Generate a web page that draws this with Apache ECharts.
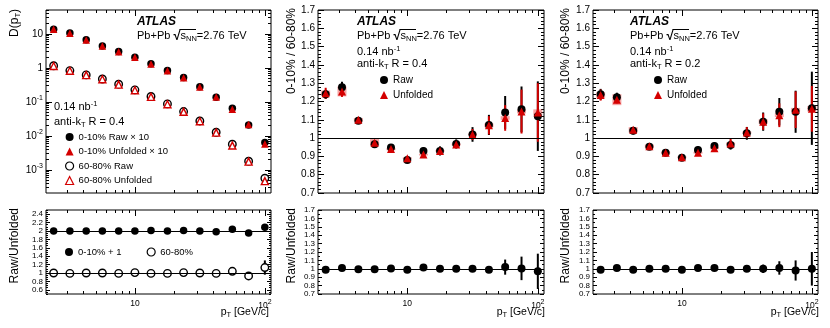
<!DOCTYPE html>
<html>
<head>
<meta charset="utf-8">
<script src="https://cdn.jsdelivr.net/npm/echarts@6/dist/echarts.min.js"></script>
<style>
  html, body { margin: 0; background: #fff; }
  #chart { width: 830px; height: 328px; }
</style>
</head>
<body>
<div id="chart"></div>
<script>
const FONT = '"Liberation Sans", Arial, Helvetica, sans-serif';
const RED = '#d40000';
const BOX = 'rgba(238, 90, 90, 0.55)';

// track pT bin centres [GeV/c]
const pt = [2.37, 3.16, 4.22, 5.62, 7.50, 10.0, 13.3, 17.8, 23.7, 31.6, 42.2, 56.2, 75.0, 100];

// D(pT) spectra (top left)
const dRaw010 = [13.7, 10.5, 6.7, 4.4, 3.0, 2.06, 1.31, 0.83, 0.52, 0.28, 0.137, 0.065, 0.021, 0.0064];
const dUnf010 = [13.6, 10.4, 6.6, 4.35, 2.95, 2.04, 1.30, 0.82, 0.51, 0.275, 0.138, 0.061, 0.0215, 0.0058];
const dRaw6080 = [1.15, 0.83, 0.62, 0.47, 0.33, 0.225, 0.144, 0.087, 0.052, 0.0275, 0.0128, 0.0057, 0.0018, 0.00057];
const dUnf6080 = [1.13, 0.82, 0.61, 0.46, 0.32, 0.22, 0.14, 0.085, 0.051, 0.027, 0.0125, 0.0052, 0.00175, 0.00047];

// Raw/Unfolded (bottom left)
const ru010 = [2.0, 2.0, 2.0, 2.0, 2.0, 2.0, 2.01, 2.0, 2.01, 2.0, 1.98, 2.04, 1.95, 2.09];
const ru010Err = [0.005, 0.005, 0.005, 0.005, 0.005, 0.005, 0.005, 0.005, 0.01, 0.01, 0.015, 0.02, 0.03, 0.04];
const ru6080 = [1.0, 0.99, 1.0, 1.0, 0.99, 1.01, 0.99, 0.99, 1.01, 1.0, 0.99, 1.04, 0.93, 1.13];
const ru6080Err = [0.005, 0.005, 0.005, 0.005, 0.005, 0.005, 0.005, 0.005, 0.01, 0.01, 0.015, 0.02, 0.05, 0.17];

// 0-10% / 60-80%, R = 0.4 (top middle)
const raw04 = [1.239, 1.278, 1.095, 0.966, 0.948, 0.880, 0.930, 0.930, 0.968, 1.020, 1.072, 1.140, 1.157, 1.120];
const raw04Err = [0.025, 0.03, 0.015, 0.012, 0.015, 0.015, 0.02, 0.025, 0.025, 0.04, 0.055, 0.09, 0.125, 0.19];
const unf04 = [1.245, 1.255, 1.100, 0.975, 0.940, 0.890, 0.910, 0.930, 0.965, 1.020, 1.070, 1.110, 1.145, 1.140];
const unf04Err = [0.03, 0.03, 0.015, 0.012, 0.012, 0.012, 0.015, 0.02, 0.02, 0.03, 0.05, 0.07, 0.12, 0.16];
const sys04 = [0.015, 0.027, 0.01, 0.02, 0.006, 0.005, 0.005, 0.005, 0.005, 0.005, 0.01, 0.01, 0.01, 0.017];

// 0-10% / 60-80%, R = 0.2 (top right)
const raw02 = [1.239, 1.223, 1.040, 0.953, 0.920, 0.893, 0.935, 0.957, 0.962, 1.026, 1.090, 1.144, 1.144, 1.163];
const raw02Err = [0.03, 0.025, 0.02, 0.015, 0.015, 0.012, 0.02, 0.02, 0.025, 0.035, 0.05, 0.075, 0.115, 0.2];
const unf02 = [1.235, 1.210, 1.045, 0.955, 0.920, 0.895, 0.920, 0.945, 0.970, 1.030, 1.090, 1.125, 1.155, 1.160];
const unf02Err = [0.03, 0.02, 0.015, 0.012, 0.012, 0.012, 0.015, 0.02, 0.025, 0.03, 0.045, 0.065, 0.10, 0.125];
const sys02 = [0.015, 0.03, 0.015, 0.01, 0.006, 0.005, 0.005, 0.006, 0.006, 0.006, 0.012, 0.01, 0.01, 0.015];

// Raw/Unfolded ratios (bottom middle, bottom right)
const ru04 = [0.99, 1.01, 0.995, 0.995, 1.005, 0.99, 1.015, 1.0, 1.0, 1.0, 0.99, 1.02, 1.005, 0.97];
const ru04Err = [0.01, 0.01, 0.01, 0.01, 0.01, 0.01, 0.01, 0.01, 0.015, 0.025, 0.04, 0.09, 0.14, 0.21];
const ru02 = [0.99, 1.01, 0.99, 1.0, 1.0, 0.99, 1.01, 1.01, 0.99, 1.0, 1.0, 1.01, 0.98, 1.0];
const ru02Err = [0.01, 0.01, 0.01, 0.01, 0.01, 0.01, 0.01, 0.01, 0.01, 0.02, 0.05, 0.08, 0.12, 0.2];

// ticks
const xMajor = [10, 100];
const xMinor = [3, 4, 5, 6, 7, 8, 9, 20, 30, 40, 50, 60, 70, 80, 90];
const dMajor = [0.001, 0.01, 0.1, 1, 10];
const ratioMajor = [0.7, 0.8, 0.9, 1, 1.1, 1.2, 1.3, 1.4, 1.5, 1.6, 1.7];
const ruLeftMajor = [0.6, 0.8, 1, 1.2, 1.4, 1.6, 1.8, 2, 2.2, 2.4];

const X_MIN = 2.07, X_MAX = 111.5;
const D_MIN = 2.1e-4, D_MAX = 50;

function stepTicks(a, b, s) {
  const out = [];
  for (let v = a; v <= b + 1e-9; v += s) out.push(+v.toFixed(3));
  return out;
}
const dMinor = [];
[1e-4, 1e-3, 1e-2, 1e-1, 1, 10].forEach(d => {
  for (let m = 2; m <= 9; m++) {
    const v = +(m * d).toPrecision(3);
    if (v >= D_MIN && v <= D_MAX) dMinor.push(v);
  }
});
const ratioMinor = stepTicks(0.7, 1.7, 0.02);
const ruMinor = stepTicks(0.7, 1.7, 0.05);
const ruLeftMinor = stepTicks(0.5, 2.5, 0.05);

const grids = [
  { left: 46, top: 10, width: 225, height: 183 },
  { left: 318, top: 10, width: 226, height: 183 },
  { left: 593, top: 10, width: 225, height: 183 },
  { left: 46, top: 210, width: 225, height: 84 },
  { left: 318, top: 210, width: 226, height: 84 },
  { left: 593, top: 210, width: 225, height: 84 }
].map(g => Object.assign({ show: true, borderColor: '#000', borderWidth: 1, backgroundColor: 'transparent', outerBoundsMode: 'none' }, g));

const supRich = {
  sup: { fontSize: 7, fontFamily: FONT, color: '#000', padding: [0, 0, 7, 0] }
};

function tickAxis(base, pos, values, len, label) {
  return Object.assign({}, base, {
    position: pos,
    axisLine: { show: false },
    splitLine: { show: false },
    axisTick: { show: true, inside: true, length: len, customValues: values, lineStyle: { color: '#000', width: 1 } },
    axisLabel: label ? Object.assign({ show: true, customValues: values, color: '#000', fontFamily: FONT, rich: supRich }, label) : { show: false }
  });
}

const xAxis = [], yAxis = [];
grids.forEach((g, gi) => {
  const xb = { type: 'log', logBase: 10, gridIndex: gi, min: X_MIN, max: X_MAX };
  const bottomRow = gi >= 3;
  xAxis.push(tickAxis(xb, 'bottom', xMajor, 6, bottomRow ? {
    fontSize: 8.5, margin: 5,
    formatter: v => (v >= 99 ? '10{sup|2}' : '10')
  } : null));
  xAxis.push(tickAxis(xb, 'bottom', xMinor, 3, null));
  xAxis.push(tickAxis(xb, 'top', xMajor, 6, null));
  xAxis.push(tickAxis(xb, 'top', xMinor, 3, null));

  let yb, major, minor, label;
  if (gi === 0) {
    yb = { type: 'log', logBase: 10, gridIndex: gi, min: D_MIN, max: D_MAX };
    major = dMajor; minor = dMinor;
    label = { fontSize: 10, margin: 3, formatter: v => (v >= 1 ? String(Math.round(v)) : '10{sup|' + Math.round(Math.log10(v)) + '}') };
  } else if (gi === 3) {
    yb = { type: 'value', gridIndex: gi, min: 0.5, max: 2.5 };
    major = ruLeftMajor; minor = ruLeftMinor;
    label = { fontSize: 8, margin: 3, formatter: v => String(+v.toFixed(1)) };
  } else {
    yb = { type: 'value', gridIndex: gi, min: 0.7, max: 1.7 };
    major = ratioMajor; minor = gi < 3 ? ratioMinor : ruMinor;
    label = { fontSize: gi < 3 ? 10 : 8, margin: 3, formatter: v => String(+v.toFixed(1)) };
  }
  const ml = gi < 3 ? 6 : 4;
  yAxis.push(tickAxis(yb, 'left', major, ml, label));
  yAxis.push(tickAxis(yb, 'left', minor, ml / 2, null));
  yAxis.push(tickAxis(yb, 'right', major, ml, null));
  yAxis.push(tickAxis(yb, 'right', minor, ml / 2, null));
});

function markerSeries(gi, name, vals, symbol, style, size) {
  return {
    type: 'scatter', name, xAxisIndex: gi * 4, yAxisIndex: gi * 4, silent: true,
    symbol, symbolSize: size || 7, itemStyle: Object.assign({ opacity: 1 }, style),
    data: pt.map((x, i) => [x, vals[i]])
  };
}
function errSeries(gi, vals, errs, color) {
  return {
    type: 'custom', xAxisIndex: gi * 4, yAxisIndex: gi * 4, silent: true,
    data: pt.map((x, i) => [x, vals[i] - errs[i], vals[i] + errs[i]]),
    encode: { x: 0, y: [1, 2] },
    renderItem: (params, api) => {
      const lo = api.coord([api.value(0), api.value(1)]);
      const hi = api.coord([api.value(0), api.value(2)]);
      return { type: 'line', shape: { x1: lo[0], y1: lo[1], x2: hi[0], y2: hi[1] }, style: { stroke: color, lineWidth: 2 } };
    }
  };
}
function boxSeries(gi, vals, sys) {
  return {
    type: 'custom', xAxisIndex: gi * 4, yAxisIndex: gi * 4, silent: true,
    data: pt.map((x, i) => [x, vals[i] - sys[i], vals[i] + sys[i]]),
    encode: { x: 0, y: [1, 2] },
    renderItem: (params, api) => {
      const lo = api.coord([api.value(0), api.value(1)]);
      const hi = api.coord([api.value(0), api.value(2)]);
      return { type: 'rect', shape: { x: lo[0] - 4.5, y: hi[1], width: 9, height: Math.max(lo[1] - hi[1], 1.2) }, style: { fill: BOX } };
    }
  };
}
function refLine(gi, levels) {
  return {
    type: 'scatter', xAxisIndex: gi * 4, yAxisIndex: gi * 4, data: [], silent: true,
    markLine: {
      silent: true, symbol: 'none', label: { show: false }, animation: false,
      lineStyle: { color: '#000', width: 1, type: 'solid' },
      data: levels.map(v => ({ yAxis: v }))
    }
  };
}

const filledBlack = { color: '#000' };
const filledRed = { color: RED };
const openBlack = { color: '#fff', borderColor: '#000', borderWidth: 1.4 };
const openRed = { color: '#fff', borderColor: RED, borderWidth: 1.4 };

const series = [
  // top left
  markerSeries(0, '0-10% Raw \u00d7 10', dRaw010, 'circle', filledBlack, 7.5),
  markerSeries(0, '0-10% Unfolded \u00d7 10', dUnf010, 'triangle', filledRed, 7.5),
  markerSeries(0, '60-80% Raw', dRaw6080, 'circle', openBlack, 7.5),
  markerSeries(0, '60-80% Unfolded', dUnf6080, 'triangle', openRed, 7),
  // top middle
  refLine(1, [1]),
  boxSeries(1, unf04, sys04),
  errSeries(1, raw04, raw04Err, '#000'),
  markerSeries(1, 'Raw', raw04, 'circle', filledBlack, 8),
  errSeries(1, unf04, unf04Err, RED),
  markerSeries(1, 'Unfolded', unf04, 'triangle', filledRed, 8),
  // top right
  refLine(2, [1]),
  boxSeries(2, unf02, sys02),
  errSeries(2, raw02, raw02Err, '#000'),
  markerSeries(2, 'Raw', raw02, 'circle', filledBlack, 8),
  errSeries(2, unf02, unf02Err, RED),
  markerSeries(2, 'Unfolded', unf02, 'triangle', filledRed, 8),
  // bottom left
  refLine(3, [1, 2]),
  errSeries(3, ru010, ru010Err, '#000'),
  markerSeries(3, '0-10% + 1', ru010, 'circle', filledBlack, 7.5),
  errSeries(3, ru6080, ru6080Err, '#000'),
  markerSeries(3, '60-80%', ru6080, 'circle', openBlack, 7.5),
  // bottom middle / right
  refLine(4, [1]),
  errSeries(4, ru04, ru04Err, '#000'),
  markerSeries(4, 'Raw/Unfolded R=0.4', ru04, 'circle', filledBlack, 8),
  refLine(5, [1]),
  errSeries(5, ru02, ru02Err, '#000'),
  markerSeries(5, 'Raw/Unfolded R=0.2', ru02, 'circle', filledBlack, 8)
];

const legendBase = {
  orient: 'vertical', selectedMode: false, itemWidth: 8, itemHeight: 8, padding: 0,
  itemStyle: { borderWidth: 1.2 },
  textStyle: { fontSize: 9.5, fontFamily: FONT, color: '#000' }
};
const legend = [
  Object.assign({}, legendBase, { data: ['0-10% Raw \u00d7 10', '0-10% Unfolded \u00d7 10', '60-80% Raw', '60-80% Unfolded'], left: 65, top: 132, itemGap: 4.5 }),
  Object.assign({}, legendBase, { data: ['0-10% + 1', '60-80%'], orient: 'horizontal', left: 65, top: 247, itemGap: 25 }),
  Object.assign({}, legendBase, { data: ['Raw', 'Unfolded'], left: 380, top: 75, itemGap: 5, textStyle: { fontSize: 10, fontFamily: FONT, color: '#000' } }),
  Object.assign({}, legendBase, { data: ['Raw', 'Unfolded'], left: 654, top: 75, itemGap: 5, textStyle: { fontSize: 10, fontFamily: FONT, color: '#000' } })
];

const textRich = {
  sub: { fontSize: 7.5, fontFamily: FONT, color: '#000', padding: [6, 0, 0, 0] },
  sup: { fontSize: 7.5, fontFamily: FONT, color: '#000', padding: [0, 0, 7, 0] },
  sq: { fontSize: 13, fontWeight: 'bold', fontFamily: FONT, color: '#000' }
};
function label(x, y, text, opt) {
  return {
    type: 'text', x, y, silent: true, rotation: (opt && opt.rotation) || 0,
    style: Object.assign({ text, fontSize: 11, fontFamily: FONT, fill: '#000', align: 'left', verticalAlign: 'middle', rich: textRich }, opt && opt.style)
  };
}
function atlasBlock(x, y, lines) {
  const out = [
    label(x, y, 'ATLAS', { style: { fontWeight: 'bold', fontStyle: 'italic', fontSize: 12 } }),
    label(x, y + 14, 'Pb+Pb {sq|\u221a}s{sub|NN}=2.76 TeV'),
    { type: 'line', silent: true, shape: { x1: x + 42.5, y1: y + 7.5, x2: x + 59, y2: y + 7.5 }, style: { stroke: '#000', lineWidth: 1 } }
  ];
  if (lines) {
    out.push(label(x, y + 30, '0.14 nb{sup|-1}'));
    out.push(label(x, y + 42, 'anti-k{sub|T} R = ' + lines));
  }
  return out;
}
const vert = { rotation: Math.PI / 2, style: { align: 'right', fontSize: 12 } };
const graphic = [].concat(
  atlasBlock(137, 22, null),
  [label(54, 107, '0.14 nb{sup|-1}'), label(54, 122, 'anti-k{sub|T} R = 0.4')],
  atlasBlock(357, 22, '0.4'),
  atlasBlock(630, 22, '0.2'),
  [
    label(15, 9, 'D(p{sub|T})', vert),
    label(292, 8, '0-10% / 60-80%', vert),
    label(566, 8, '0-10% / 60-80%', vert),
    label(15, 208, 'Raw/Unfolded', vert),
    label(292, 208, 'Raw/Unfolded', vert),
    label(566, 208, 'Raw/Unfolded', vert),
    label(269, 312, 'p{sub|T} [GeV/c]', { style: { align: 'right', fontSize: 10.5 } }),
    label(545, 312, 'p{sub|T} [GeV/c]', { style: { align: 'right', fontSize: 10.5 } }),
    label(819, 312, 'p{sub|T} [GeV/c]', { style: { align: 'right', fontSize: 10.5 } })
  ]
);

const chart = echarts.init(document.getElementById('chart'), null, { renderer: 'canvas' });
chart.setOption({
  animation: false,
  backgroundColor: '#fff',
  textStyle: { fontFamily: FONT },
  grid: grids,
  xAxis,
  yAxis,
  legend,
  series,
  graphic
});
</script>
</body>
</html>
